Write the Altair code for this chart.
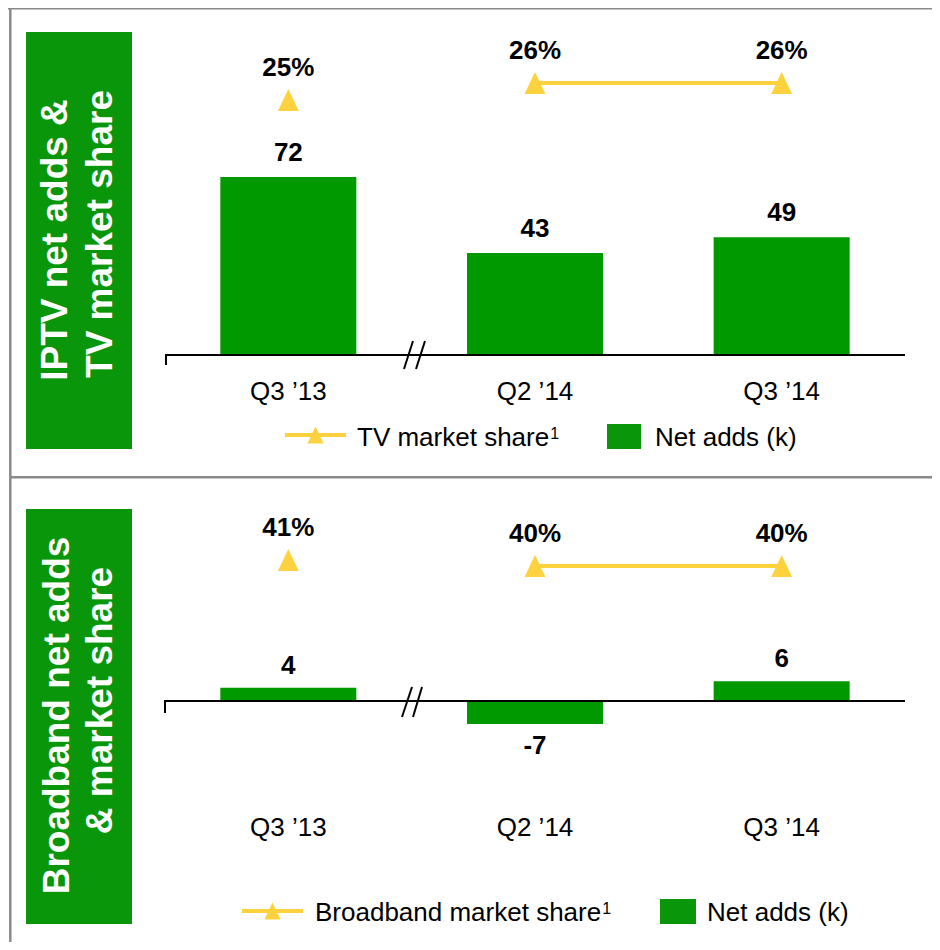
import altair as alt
import pandas as pd

# ---------------- data ----------------
quarters = ["Q3 ’13", "Q2 ’14", "Q3 ’14"]
iptv_net_adds = [72, 43, 49]
tv_share = [25, 26, 26]
bb_net_adds = [4, -7, 6]
bb_share = [41, 40, 40]
connected = [False, True, True]   # line only joins the quarters after the axis break
IPTV_AXIS_BASE = 4.1              # value where the (non-zero) IPTV category axis sits

top_df = pd.DataFrame({"quarter": quarters, "net_adds": iptv_net_adds,
                       "share": tv_share, "connected": connected})
bot_df = pd.DataFrame({"quarter": quarters, "net_adds": bb_net_adds,
                       "share": bb_share, "connected": connected})
for d in (top_df, bot_df):
    d["share_label"] = d["share"].astype(str) + "%"
    d["adds_label"] = d["net_adds"].astype(str)
one = pd.DataFrame({"k": [0]})

# ---------------- style ----------------
FONT = "Liberation Sans"
GREEN = "#009900"
BOX_GREEN = "#0A960A"
GOLD = "#FDD23E"
FRAME = "#8A8A8A"
TRI = "M0,-1L-0.95,1L0.95,1Z"
FS = 26

X = alt.X("quarter:N", sort=quarters, axis=None,
          scale=alt.Scale(type="band", domain=quarters, range=[157, 897],
                          paddingInner=0, paddingOuter=0))

def yscale(field, domain, rng):
    return alt.Y(f"{field}:Q", axis=None,
                 scale=alt.Scale(domain=domain, range=rng, nice=False, zero=False))

Y_TOP_BAR = lambda: yscale("net_adds", [0, 100], [357.7, 95.7])
Y_TOP_SH = lambda: yscale("share", [20, 30], [177, 7])
Y_BOT_BAR = lambda: yscale("net_adds", [-10, 10], [726, 660])
Y_BOT_SH = lambda: yscale("share", [30, 50], [618, 498])

layers = []

def rule(x, x2, y, y2, color="black", w=2):
    return alt.Chart(one).mark_rule(color=color, strokeWidth=w).encode(
        x=alt.value(x), x2=alt.value(x2), y=alt.value(y), y2=alt.value(y2))

def label(txt, x, y, size=FS, bold=False, color="black", align="left", angle=0, baseline="middle"):
    return alt.Chart(one).mark_text(
        text=txt, font=FONT, fontSize=size, fontWeight="bold" if bold else "normal",
        color=color, align=align, angle=angle, baseline=baseline).encode(
        x=alt.value(x), y=alt.value(y))

def box(x, x2, y, y2):
    return alt.Chart(one).mark_rect(color=BOX_GREEN).encode(
        x=alt.value(x), x2=alt.value(x2), y=alt.value(y), y2=alt.value(y2))

# frame
layers += [rule(0, 924, 0, 0, FRAME, 3), rule(2.3, 2.3, 0, 934, FRAME, 2.5),
           rule(2.3, 924, 469.3, 469.3, FRAME, 2.5)]

# side label boxes
layers += [box(18, 124, 24, 441), box(18, 124, 501, 916)]
layers += [label("IPTV net adds &", 59, 232, 37, True, "white", "center", 270, "alphabetic"),
           label("TV market share", 104, 226, 37, True, "white", "center", 270, "alphabetic"),
           label("Broadband net adds", 61, 707.5, 37, True, "white", "center", 270, "alphabetic"),
           label("& market share", 104, 692.5, 37, True, "white", "center", 270, "alphabetic")]

# ---------------- top panel ----------------
top = alt.Chart(top_df)
layers.append(top.mark_bar(size=136, color=GREEN)
              .encode(x=X, y=Y_TOP_BAR(), y2=alt.datum(IPTV_AXIS_BASE)))
layers.append(top.mark_text(font=FONT, fontSize=FS, fontWeight="bold", dy=-24, baseline="middle")
              .encode(x=X, y=Y_TOP_BAR(), text="adds_label:N"))
layers += [rule(157, 897, 347, 347), rule(158, 158, 346, 357),
           rule(396, 405, 361, 333), rule(408, 417, 361, 333)]
layers.append(top.mark_text(font=FONT, fontSize=FS, baseline="middle")
              .encode(x=X, y=alt.value(384), text="quarter:N"))
layers.append(top.transform_filter("datum.connected").mark_line(color=GOLD, strokeWidth=4)
              .encode(x=X, y=Y_TOP_SH()))
layers.append(top.mark_point(shape=TRI, filled=True, size=484, color=GOLD, opacity=1)
              .encode(x=X, y=Y_TOP_SH()))
layers.append(top.mark_text(font=FONT, fontSize=FS, fontWeight="bold", dy=-32, baseline="middle")
              .encode(x=X, y=Y_TOP_SH(), text="share_label:N"))
# legend
layers += [rule(277, 338, 427, 427, GOLD, 4),
           alt.Chart(one).mark_point(shape=TRI, filled=True, size=289, color=GOLD, opacity=1)
           .encode(x=alt.value(307.5), y=alt.value(427)),
           label("TV market share", 349, 430),
           label("1", 349 + 7.391 * FS + 1, 431, 16, baseline="alphabetic"),
           box(599, 633, 416, 441),
           label("Net adds (k)", 647, 430)]

# ---------------- bottom panel ----------------
bot = alt.Chart(bot_df)
layers.append(bot.mark_bar(size=136, color=GREEN).encode(x=X, y=Y_BOT_BAR(), y2=alt.datum(0)))
layers.append(bot.transform_filter("datum.net_adds >= 0")
              .mark_text(font=FONT, fontSize=FS, fontWeight="bold", dy=-22, baseline="middle")
              .encode(x=X, y=Y_BOT_BAR(), text="adds_label:N"))
layers.append(bot.transform_filter("datum.net_adds < 0")
              .mark_text(font=FONT, fontSize=FS, fontWeight="bold", dy=22, baseline="middle")
              .encode(x=X, y=Y_BOT_BAR(), text="adds_label:N"))
layers += [rule(157, 897, 693, 693), rule(157, 157, 692, 705),
           rule(394, 404, 709, 679), rule(405, 414, 709, 679)]
layers.append(bot.mark_text(font=FONT, fontSize=FS, baseline="middle")
              .encode(x=X, y=alt.value(820), text="quarter:N"))
layers.append(bot.transform_filter("datum.connected").mark_line(color=GOLD, strokeWidth=4)
              .encode(x=X, y=Y_BOT_SH()))
layers.append(bot.mark_point(shape=TRI, filled=True, size=484, color=GOLD, opacity=1)
              .encode(x=X, y=Y_BOT_SH()))
layers.append(bot.mark_text(font=FONT, fontSize=FS, fontWeight="bold", dy=-32, baseline="middle")
              .encode(x=X, y=Y_BOT_SH(), text="share_label:N"))
layers += [rule(234, 295, 903, 903, GOLD, 4),
           alt.Chart(one).mark_point(shape=TRI, filled=True, size=289, color=GOLD, opacity=1)
           .encode(x=alt.value(264.5), y=alt.value(903)),
           label("Broadband market share", 307, 905),
           label("1", 307 + 11.005 * FS + 1, 906, 16, baseline="alphabetic"),
           box(652, 688, 891, 916),
           label("Net adds (k)", 699, 905)]

chart = (alt.layer(*layers)
         .resolve_scale(y="independent")
         .properties(width=924, height=934, padding=0, autosize="none")
         .configure_view(stroke=None))

chart.save("out.html", embed_options={"renderer": "svg", "actions": False})
